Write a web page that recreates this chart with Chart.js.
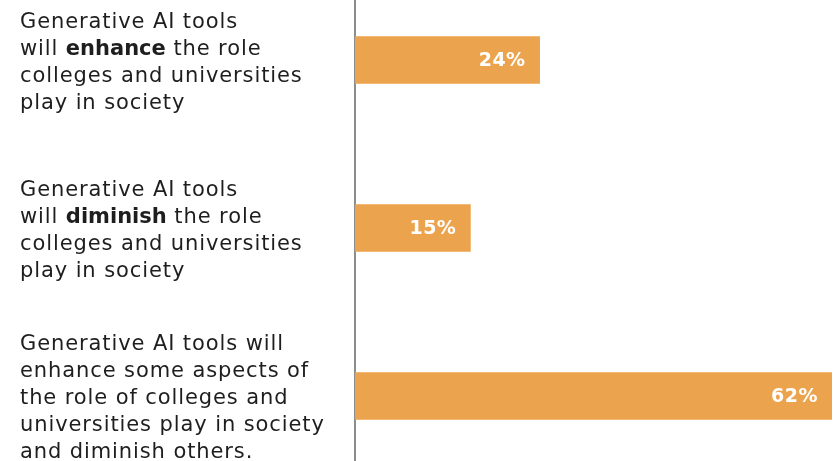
<!DOCTYPE html>
<html>
<head>
<meta charset="utf-8">
<script src="https://cdn.jsdelivr.net/npm/chart.js@4.4.0/dist/chart.umd.min.js"></script>
<style>
  html, body { margin: 0; padding: 0; background: #fff; overflow: hidden; }
  #wrap { position: absolute; left: 0; top: -24px; width: 838px; height: 504px; }
</style>
</head>
<body>
<div id="wrap"><canvas id="chart"></canvas></div>
<script>
// label lines, **word** = bold
const categories = [
    ["Generative AI tools", "will **enhance** the role", "colleges and universities", "play in society"],
    ["Generative AI tools", "will **diminish** the role", "colleges and universities", "play in society"],
    ["Generative AI tools will", "enhance some aspects of", "the role of colleges and", "universities play in society", "and diminish others."]
];
const values = [24, 15, 62];

const labelFont = "DejaVu Sans";
const barColor = "#eca34d";

// draws the multi-line category labels with bold segments
const categoryLabels = {
    id: "categoryLabels",
    afterDraw(chart) {
        const ctx = chart.ctx;
        const yScale = chart.scales.y;
        ctx.save();
        ctx.fillStyle = "#1e1e1e";
        ctx.textBaseline = "alphabetic";
        ctx.textAlign = "left";
        categories.forEach((lines, i) => {
            const cy = yScale.getPixelForValue(i);
            lines.forEach((line, j) => {
                const y = cy + (j - (lines.length - 1) / 2) * 27 + 8;
                let x = 20;
                line.split("**").forEach((part, k) => {
                    const bold = k % 2 === 1;
                    ctx.font = (bold ? "bold " : "") + "21px '" + labelFont + "'";
                    ctx.letterSpacing = bold ? "0px" : "0.9px";
                    ctx.fillText(part, x, y);
                    x += ctx.measureText(part).width;
                });
            });
        });
        ctx.restore();
    }
};

// value text inside bar end
const valueLabels = {
    id: "valueLabels",
    afterDatasetsDraw(chart) {
        const ctx = chart.ctx;
        const meta = chart.getDatasetMeta(0);
        ctx.save();
        ctx.fillStyle = "#fff";
        ctx.font = "bold 19px '" + labelFont + "'";
        ctx.letterSpacing = "0.5px";
        ctx.textAlign = "right";
        ctx.textBaseline = "middle";
        meta.data.forEach((bar, i) => {
            ctx.fillText(values[i] + "%", bar.x - 14, bar.y + 1);
        });
        ctx.restore();
    }
};

new Chart(document.getElementById("chart"), {
    type: "bar",
    data: {
        labels: categories.map(c => c.join(" ")),
        datasets: [{
            data: values,
            backgroundColor: barColor,
            barThickness: 47,
        }]
    },
    options: {
        indexAxis: "y",
        responsive: true,
        maintainAspectRatio: false,
        animation: false,
        layout: { padding: { left: 0, right: 6, top: 0, bottom: 0 } },
        plugins: {
            legend: { display: false },
            tooltip: { enabled: false },
        },
        scales: {
            x: {
                display: false,
                min: 0,
                max: 62,
            },
            y: {
                ticks: { display: false },
                grid: { display: false, drawTicks: false },
                border: { display: true, color: "#8c8c8c", width: 2 },
                afterFit(scale) { scale.width = 355; },
            }
        }
    },
    plugins: [categoryLabels, valueLabels]
});
</script>
</body>
</html>
